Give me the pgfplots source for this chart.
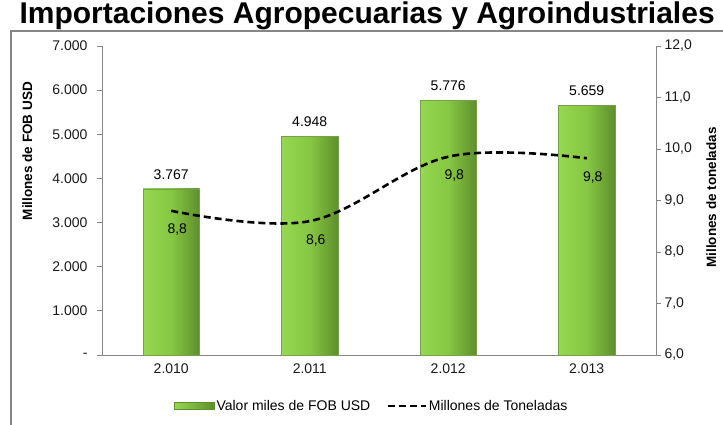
\documentclass[border=0pt]{standalone}
\usepackage{fontspec}
\setmainfont{Liberation Sans}
\usepackage{pgfplots}
\usepackage{pgfplotstable}
\pgfplotsset{compat=1.18}

\definecolor{axisgray}{HTML}{868686}
\definecolor{barlight}{HTML}{96D850}
\definecolor{barmid}{HTML}{86C743}
\definecolor{bardark}{HTML}{5E8F2C}

\pgfplotstableread{
x val lab
1 3767 3.767
2 4948 4.948
3 5776 5.776
4 5659 5.659
}\valortable

\pgfplotstableread{
x ton lab
1 8.80 8,8
2 8.60 8,6
3 9.85 9,8
4 9.82 9,8
}\tontable

\newcommand{\lblfont}{\fontsize{14}{16}\selectfont}

\pgfplotsset{
    greenbar/.style={draw=bardark!85, line width=0.4pt,
        left color=barlight, right color=bardark, middle color=barmid,
        bar shift=0pt,
        nodes near coords, point meta=explicit symbolic,
        every node near coord/.append style={font=\lblfont, text=black, yshift=6pt}},
}

\begin{document}
\begin{tikzpicture}[x=1pt,y=1pt]
\useasboundingbox (0,0) rectangle (723,-425);
\clip (0,0) rectangle (723,-425);

\node[anchor=base west, font=\bfseries\fontsize{30}{36}\selectfont] at (16,-24)
  {Importaciones Agropecuarias y Agroindustriales};
\draw[axisgray, line width=1.3pt] (11,-426) -- (11,-31) -- (724,-31);

% bars, left axis
\begin{axis}[
    at={(102pt,-355pt)}, anchor=south west,
    width=554pt, height=309pt, scale only axis,
    xmin=0.5, xmax=4.5, ymin=0, ymax=7000,
    axis x line*=bottom, axis y line*=left,
    axis line style={axisgray, line width=0.8pt},
    tick align=outside, major tick length=5pt,
    tick style={axisgray, line width=0.8pt},
    xtick={1,2,3,4}, xticklabels={2.010,2.011,2.012,2.013},
    x tick style={draw=none},
    extra x ticks={0.5,1.5,2.5,3.5,4.5}, extra x tick labels={},
    extra x tick style={tick style={axisgray, line width=0.8pt}, major tick length=6pt},
    ytick={0,1000,...,7000},
    yticklabels={-,1.000,2.000,3.000,4.000,5.000,6.000,7.000},
    ticklabel style={font=\lblfont, text=black!90},
    yticklabel style={xshift=-6pt},
    ylabel={Millones de FOB USD},
    ylabel style={font=\bfseries\fontsize{13.5}{15}\selectfont,
        at={(axis description cs:-0.135,0.66)}, anchor=center},
    ybar, bar width=56.5pt,
    clip=false,
]
% one plot per bar so that each bar gets its own shading
\addplot[greenbar, restrict x to domain=1:1] table[x=x, y=val, meta=lab] {\valortable};
\addplot[greenbar, restrict x to domain=2:2] table[x=x, y=val, meta=lab] {\valortable};
\addplot[greenbar, restrict x to domain=3:3] table[x=x, y=val, meta=lab] {\valortable};
\addplot[greenbar, restrict x to domain=4:4] table[x=x, y=val, meta=lab] {\valortable};
\end{axis}

% tonnes, right axis
\begin{axis}[
    at={(102pt,-355pt)}, anchor=south west,
    width=554pt, height=309pt, scale only axis,
    xmin=0.5, xmax=4.5, ymin=6, ymax=12,
    axis x line=none, axis y line*=right,
    axis line style={axisgray, line width=0.8pt},
    tick align=outside, major tick length=5pt,
    tick style={axisgray, line width=0.8pt},
    ytick={6,7,...,12},
    yticklabels={{6,0},{7,0},{8,0},{9,0},{10,0},{11,0},{12,0}},
    ticklabel style={font=\lblfont, text=black!90},
    ylabel={Millones de toneladas},
    ylabel style={font=\bfseries\fontsize{13.5}{15}\selectfont,
        at={(axis description cs:1.1,0.51)}, anchor=center, rotate=0},
    clip=false,
    legend columns=2,
    legend style={at={(axis description cs:0.487,-0.165)}, anchor=center,
        draw=none, fill=none, font=\lblfont,
        /tikz/every even column/.append style={column sep=14pt}},
]
\addlegendimage{legend image code/.code={
    \draw[draw=bardark, left color=barlight, right color=bardark]
        (0pt,-3.5pt) rectangle (40pt,3.5pt);}}
\addlegendentry{Valor miles de FOB USD}
\addplot[black, line width=2.6pt, dash pattern=on 7pt off 4pt, smooth, tension=0.6,
    nodes near coords, point meta=explicit symbolic,
    every node near coord/.append style={font=\lblfont, text=black,
        anchor=center, xshift=6pt, yshift=-19pt},
    legend image code/.code={
        \draw[black, line width=2.6pt, dash pattern=on 7pt off 4pt] (0pt,0pt) -- (38pt,0pt);}]
    table[x=x, y=ton, meta=lab] {\tontable};
\addlegendentry{Millones de Toneladas}
\end{axis}
\end{tikzpicture}
\end{document}
